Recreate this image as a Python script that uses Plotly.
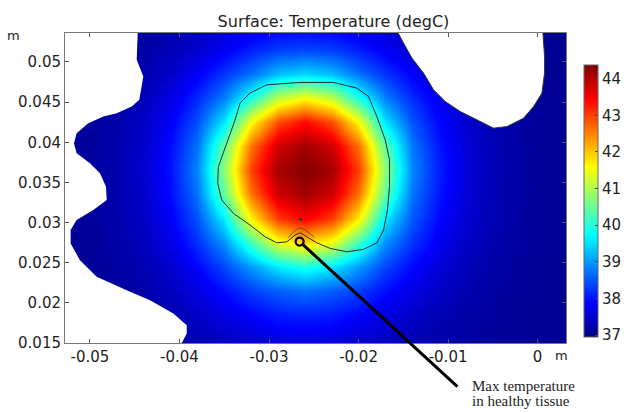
import plotly.graph_objects as go

grid_x = [-0.056, -0.053, -0.050, -0.047, -0.044, -0.041, -0.038, -0.035, -0.032, -0.029, -0.026,
          -0.023, -0.020, -0.017, -0.014, -0.011, -0.008, -0.005, -0.002, 0.001, 0.004]
grid_y = [0.0125, 0.0155, 0.0185, 0.0215, 0.0245, 0.0275, 0.0305, 0.0335, 0.0365,
          0.0395, 0.0425, 0.0455, 0.0485, 0.0515, 0.0545]
temp_rows = [
    [37.01, 37.02, 37.03, 37.06, 37.09, 37.14, 37.20, 37.27, 37.36, 37.42, 37.44, 37.42, 37.36, 37.27, 37.20, 37.15, 37.11, 37.08, 37.05, 37.03, 37.02],
    [37.01, 37.02, 37.04, 37.07, 37.12, 37.20, 37.30, 37.42, 37.54, 37.67, 37.71, 37.67, 37.54, 37.42, 37.31, 37.22, 37.15, 37.10, 37.06, 37.04, 37.02],
    [37.02, 37.03, 37.06, 37.09, 37.17, 37.26, 37.43, 37.65, 37.87, 38.06, 38.13, 38.06, 37.87, 37.65, 37.45, 37.30, 37.20, 37.13, 37.08, 37.05, 37.03],
    [37.02, 37.04, 37.07, 37.13, 37.22, 37.38, 37.63, 37.96, 38.32, 38.56, 38.70, 38.56, 38.32, 37.96, 37.66, 37.43, 37.27, 37.17, 37.10, 37.06, 37.03],
    [37.02, 37.05, 37.09, 37.17, 37.28, 37.50, 37.88, 38.38, 39.00, 39.58, 39.93, 39.58, 39.00, 38.38, 37.92, 37.57, 37.34, 37.21, 37.12, 37.07, 37.03],
    [37.03, 37.06, 37.10, 37.20, 37.37, 37.69, 38.20, 38.93, 40.18, 41.43, 41.86, 41.43, 40.18, 38.93, 38.24, 37.76, 37.44, 37.25, 37.14, 37.08, 37.04],
    [37.03, 37.07, 37.12, 37.23, 37.44, 37.84, 38.47, 39.62, 41.66, 43.00, 43.47, 43.00, 41.66, 39.62, 38.51, 37.91, 37.52, 37.29, 37.16, 37.09, 37.04],
    [37.03, 37.07, 37.13, 37.24, 37.48, 37.96, 38.70, 40.45, 42.60, 43.81, 44.13, 43.81, 42.60, 40.45, 38.74, 38.03, 37.56, 37.30, 37.17, 37.09, 37.04],
    [37.03, 37.07, 37.14, 37.25, 37.50, 38.02, 38.84, 40.77, 42.98, 44.10, 44.35, 44.10, 42.98, 40.77, 38.88, 38.09, 37.58, 37.31, 37.18, 37.09, 37.04],
    [37.03, 37.07, 37.13, 37.24, 37.48, 37.96, 38.70, 40.45, 42.60, 43.81, 44.13, 43.81, 42.60, 40.45, 38.74, 38.03, 37.56, 37.30, 37.17, 37.09, 37.04],
    [37.03, 37.06, 37.12, 37.22, 37.44, 37.83, 38.45, 39.56, 41.56, 42.89, 43.41, 42.89, 41.56, 39.56, 38.49, 37.90, 37.51, 37.28, 37.16, 37.08, 37.04],
    [37.03, 37.06, 37.10, 37.19, 37.36, 37.66, 38.15, 38.80, 39.91, 41.12, 41.57, 41.12, 39.91, 38.80, 38.19, 37.72, 37.42, 37.24, 37.13, 37.08, 37.04],
    [37.02, 37.04, 37.08, 37.15, 37.25, 37.46, 37.81, 38.25, 38.70, 39.26, 39.45, 39.26, 38.70, 38.25, 37.85, 37.52, 37.30, 37.19, 37.11, 37.06, 37.03],
    [37.02, 37.03, 37.07, 37.10, 37.20, 37.32, 37.50, 37.80, 38.09, 38.32, 38.39, 38.32, 38.09, 37.80, 37.53, 37.37, 37.24, 37.13, 37.09, 37.05, 37.03],
    [37.02, 37.03, 37.05, 37.08, 37.13, 37.21, 37.33, 37.47, 37.64, 37.76, 37.81, 37.76, 37.64, 37.47, 37.35, 37.25, 37.16, 37.10, 37.07, 37.04, 37.03],
]
temp_min = 36.95
temp_max = 44.38

# ---- geometry outside the tissue domain (white) ----
left_void_x = [-0.0447, -0.04467, -0.04478, -0.04404, -0.04449, -0.04534, -0.04702, -0.04851, -0.05019,
               -0.05149, -0.05179, -0.05149, -0.05000, -0.04888, -0.04821, -0.04813, -0.04963, -0.05149,
               -0.05216, -0.05216, -0.05112, -0.04925, -0.04590, -0.04329, -0.04069, -0.03919, -0.03919,
               -0.03975, -0.0400, -0.0600, -0.0600]
left_void_y = [0.0570, 0.05361, 0.05028, 0.04820, 0.04529, 0.04445, 0.04363, 0.04320, 0.04238,
               0.04113, 0.03989, 0.03864, 0.03739, 0.03614, 0.03447, 0.03281, 0.03156, 0.03031,
               0.02906, 0.02740, 0.02532, 0.02324, 0.02158, 0.02033, 0.01867, 0.01721, 0.01617,
               0.01500, 0.0120, 0.0120, 0.0570]
right_void_x = [-0.0158, -0.01554, -0.01498, -0.01404, -0.01274, -0.01163, -0.01032, -0.00864, -0.00678,
                -0.00492, -0.00342, -0.00157, -0.00045, 0.00049, 0.00078, 0.00078, 0.00060, 0.0006]
right_void_y = [0.0570, 0.05353, 0.05237, 0.05049, 0.04862, 0.04654, 0.04508, 0.04383, 0.04279,
                0.04176, 0.04196, 0.04300, 0.04445, 0.04613, 0.04862, 0.05069, 0.05353, 0.0570]

# ---- tumour boundary contour ----
tumour_x = [-0.03212, -0.03025, -0.02653, -0.02280, -0.02019, -0.01889, -0.01795, -0.01702, -0.01654,
            -0.01654, -0.01677, -0.01721, -0.01795, -0.01945, -0.02131, -0.02317, -0.02466, -0.02578,
            -0.02653, -0.02709, -0.02801, -0.02913, -0.03044, -0.03212, -0.03398, -0.03528, -0.03573,
            -0.03566, -0.03472, -0.03379, -0.03323, -0.03212]
tumour_y = [0.04613, 0.04716, 0.04745, 0.04745, 0.04675, 0.04570, 0.04320, 0.04030, 0.03780,
            0.03447, 0.03156, 0.02906, 0.02748, 0.02666, 0.02636, 0.02678, 0.02748, 0.02823,
            0.02873, 0.02844, 0.02760, 0.02748, 0.02823, 0.02969, 0.03115, 0.03281, 0.03489,
            0.03696, 0.03989, 0.04279, 0.04488, 0.04613]
notch_x = [-0.02787, -0.02709, -0.02653, -0.02586, -0.02496]
notch_y = [0.02810, 0.02900, 0.02935, 0.02900, 0.02815]

# ---- annotated points ----
healthy_max_x = [-0.02658]
healthy_max_y = [0.02763]
centre_dot_x = [-0.02645]
centre_dot_y = [0.0304]
pointer_tail = (-0.00879, 0.00940)

# ---- ticks ----
x_tickvals = [-0.05, -0.04, -0.03, -0.02, -0.01, 0.0]
x_ticktext = ["-0.05", "-0.04", "-0.03", "-0.02", "-0.01", "0"]
y_tickvals = [0.015, 0.02, 0.025, 0.03, 0.035, 0.04, 0.045, 0.05]
y_ticktext = ["0.015", "0.02", "0.025", "0.03", "0.035", "0.04", "0.045", "0.05"]
cbar_ticks = [37, 38, 39, 40, 41, 42, 43, 44]

jet = [[0.0, "rgb(0,0,135)"], [0.125, "rgb(0,0,255)"], [0.375, "rgb(0,255,255)"],
       [0.625, "rgb(255,255,0)"], [0.875, "rgb(255,0,0)"], [1.0, "rgb(128,0,0)"]]

FONT = "DejaVu Sans"
TXT = "#222222"

fig = go.Figure()
fig.add_trace(go.Heatmap(
    x=grid_x, y=grid_y, z=temp_rows, zmin=temp_min, zmax=temp_max,
    colorscale=jet, zsmooth="best", hoverinfo="skip",
    colorbar=dict(x=1.0366, xanchor="left", xpad=0, y=0.4585, yanchor="middle",
                  lenmode="pixels", len=272, thickness=14, ypad=0,
                  outlinewidth=1, outlinecolor="#666666",
                  tickvals=cbar_ticks, ticks="inside", ticklen=3, tickcolor="#444444",
                  tickfont=dict(family=FONT, size=15, color=TXT)),
))
fig.add_trace(go.Scatter(x=left_void_x, y=left_void_y, mode="lines", fill="toself",
                         fillcolor="white", line=dict(width=0, color="white"),
                         hoverinfo="skip", showlegend=False))
fig.add_trace(go.Scatter(x=right_void_x, y=right_void_y, mode="lines", fill="toself",
                         fillcolor="white", line=dict(width=1, color="#333333"),
                         hoverinfo="skip", showlegend=False))
fig.add_trace(go.Scatter(x=tumour_x, y=tumour_y, mode="lines",
                         line=dict(width=1, color="#2a2a2a"), hoverinfo="skip", showlegend=False))
fig.add_trace(go.Scatter(x=notch_x, y=notch_y, mode="lines", line_shape="spline",
                         line=dict(width=0.8, color="#444444"), hoverinfo="skip", showlegend=False))
fig.add_trace(go.Scatter(x=centre_dot_x, y=centre_dot_y, mode="markers",
                         marker=dict(size=3, color="#333333"), hoverinfo="skip", showlegend=False))
fig.add_trace(go.Scatter(x=healthy_max_x, y=healthy_max_y, mode="markers",
                         marker=dict(symbol="circle-open", size=8, color="black",
                                     line=dict(width=2.2, color="black")),
                         hoverinfo="skip", showlegend=False))

fig.add_annotation(x=healthy_max_x[0], y=healthy_max_y[0], xref="x", yref="y",
                   ax=pointer_tail[0], ay=pointer_tail[1], axref="x", ayref="y",
                   text="", showarrow=True, arrowhead=0, arrowwidth=3, arrowcolor="black",
                   standoff=3, startstandoff=0)
fig.add_annotation(x=0.8089, y=-0.140, xref="paper", yref="paper", xanchor="left", yanchor="middle",
                   text="Max temperature", showarrow=False,
                   font=dict(family="Liberation Serif", size=15, color="#222222"))
fig.add_annotation(x=0.8089, y=-0.1885, xref="paper", yref="paper", xanchor="left", yanchor="middle",
                   text="in healthy tissue", showarrow=False,
                   font=dict(family="Liberation Serif", size=15, color="#222222"))
fig.add_annotation(x=-0.1019, y=0.9913, xref="paper", yref="paper", xanchor="center", yanchor="middle",
                   text="m", showarrow=False, font=dict(family=FONT, size=13, color=TXT))
fig.add_annotation(x=0.9906, y=-0.0414, xref="paper", yref="paper", xanchor="center", yanchor="middle",
                   text="m", showarrow=False, font=dict(family=FONT, size=13, color=TXT))

axis_common = dict(showgrid=False, zeroline=False, showline=True, linecolor="#777777", linewidth=1,
                   mirror="allticks", ticks="inside", ticklen=4, tickcolor="#555555",
                   tickfont=dict(family=FONT, size=15, color=TXT))
fig.update_xaxes(range=[-0.05279, 0.003174], tickvals=x_tickvals, ticktext=x_ticktext, **axis_common)
fig.update_yaxes(range=[0.015, 0.05361], tickvals=y_tickvals, ticktext=y_ticktext, **axis_common)

fig.update_layout(
    width=628, height=413,
    margin=dict(l=65, r=62, t=33, b=70, autoexpand=False),
    paper_bgcolor="white", plot_bgcolor="white",
    showlegend=False,
    title=dict(text="Surface: Temperature (degC)", x=0.531, xanchor="center", y=0.949, yanchor="middle",
               xref="container", yref="container",
               font=dict(family=FONT, size=16, color=TXT)),
)

fig.write_html("out.html", config={"displayModeBar": False},
               post_script="document.body.style.margin='0';document.body.style.overflow='hidden';")
